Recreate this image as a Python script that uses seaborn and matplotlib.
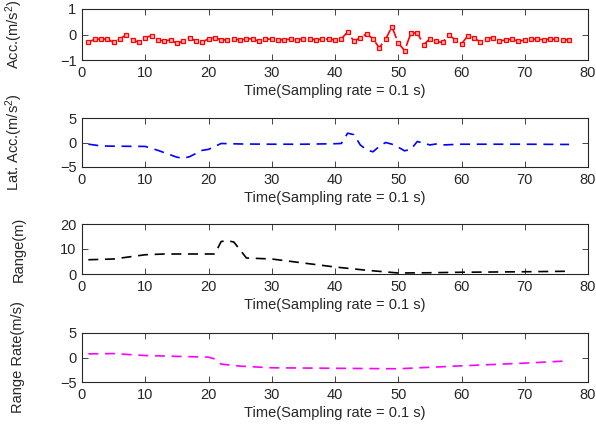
import numpy as np
import pandas as pd
import matplotlib
matplotlib.use("Agg")
import matplotlib.pyplot as plt
import seaborn as sns

# ---- data ----
acc_t = list(range(1, 78))
acc = [-0.31, -0.18, -0.18, -0.18, -0.31, -0.17, -0.01, -0.21, -0.31, -0.12,
       -0.05, -0.21, -0.26, -0.21, -0.35, -0.26, -0.12, -0.26, -0.31, -0.16,
       -0.12, -0.21, -0.21, -0.18, -0.21, -0.17, -0.17, -0.27, -0.18, -0.18,
       -0.21, -0.21, -0.18, -0.21, -0.18, -0.18, -0.21, -0.18, -0.18, -0.21,
       -0.17, 0.10, -0.27, -0.12, 0.03, -0.17, -0.52, -0.18, 0.30, -0.33,
       -0.63, 0.05, 0.07, -0.40, -0.17, -0.27, -0.31, -0.01, -0.21, -0.37,
       -0.05, -0.12, -0.31, -0.17, -0.12, -0.26, -0.21, -0.18, -0.27, -0.21,
       -0.18, -0.18, -0.21, -0.18, -0.18, -0.21, -0.21]

lat_t = [1, 3, 5, 10, 12, 15, 16, 17, 19, 20, 22, 25, 30, 35, 40, 41, 42, 43,
         44, 45, 46, 47, 48, 49, 50, 51, 52, 53, 54, 55, 56, 57, 60, 65, 70, 77]
lat = [-0.34, -0.7, -0.75, -0.8, -1.6, -3.0, -3.2, -2.9, -1.6, -1.4, -0.2,
       -0.3, -0.35, -0.35, -0.25, -0.2, 1.9, 1.6, -0.5, -1.5, -1.9, -0.8, 0.0,
       -0.34, -0.95, -1.7, -1.4, 0.2, -0.1, -0.5, -0.3, -0.5, -0.35, -0.35,
       -0.35, -0.4]

rng_t = [1, 5, 10, 13, 21, 22, 23, 24, 26, 30, 35, 40, 45, 50, 55, 60, 70, 77]
rng = [5.7, 6.0, 7.7, 8.0, 8.0, 13.0, 13.3, 12.8, 6.4, 6.0, 4.4, 2.8, 1.5,
       0.4, 0.5, 0.7, 0.9, 1.1]

rr_t = [1, 5, 10, 20, 21, 22, 25, 30, 40, 50, 55, 60, 70, 76]
rr = [0.74, 0.8, 0.4, 0.07, -0.3, -1.35, -1.76, -2.1, -2.2, -2.3, -2.0, -1.7,
      -1.15, -0.75]

ylabels = ["Acc.(m/s$^2$)", "Lat. Acc.(m/s$^2$)", "Range(m)", "Range Rate(m/s)"]
yticks = [[-1, 0, 1], [-5, 0, 5], [0, 10, 20], [-5, 0, 5]]
ylims = [(-1, 1), (-5, 5), (0, 20), (-5, 5)]
xlabel = "Time(Sampling rate = 0.1 s)"
xticks = [0, 10, 20, 30, 40, 50, 60, 70, 80]

# ---- style ----
sns.set_style("ticks")
plt.rcParams['font.family'] = ['Liberation Sans', 'DejaVu Sans']
plt.rcParams['mathtext.fontset'] = 'custom'
plt.rcParams['mathtext.rm'] = 'Liberation Sans'
plt.rcParams['mathtext.it'] = 'Liberation Sans'
plt.rcParams['xtick.direction'] = 'in'
plt.rcParams['ytick.direction'] = 'in'

W, H = 596, 433
fig = plt.figure(figsize=(W / 100, H / 100), dpi=100)

# axes boxes in pixels (left, top, right, bottom)
boxes = [(82, 9, 588, 60), (82, 118, 588, 167), (82, 224, 588, 274), (82, 333, 588, 382)]
axes = []
for (l, t, r, b) in boxes:
    ax = fig.add_axes([l / W, 1 - b / H, (r - l) / W, (b - t) / H])
    axes.append(ax)

series = [
    (acc_t, acc, "#ff0000", dict(marker="s", markersize=2.6, markeredgewidth=0.9,
                                  markerfacecolor="#ffb0b0", markeredgecolor="#ff0000",
                                  dashes=(7, 2.5))),
    (lat_t, lat, "#0000ff", dict(dashes=(6, 4))),
    (rng_t, rng, "#000000", dict(dashes=(6, 4))),
    (rr_t, rr, "#ff00ff", dict(dashes=(6, 4))),
]

for i, (ax, (t, v, c, kw)) in enumerate(zip(axes, series)):
    df = pd.DataFrame({"t": t, "v": v})
    dashes = kw.pop("dashes")
    line_ax = sns.lineplot(data=df, x="t", y="v", ax=ax, color=c, linewidth=1.2, **kw)
    line_ax.lines[0].set_dashes(dashes)
    ax.set_xlim(0, 80)
    ax.set_ylim(*ylims[i])
    ax.set_xticks(xticks)
    ax.set_yticks(yticks[i])
    ax.tick_params(axis="both", which="both", top=True, right=True, length=4,
                   width=0.6, color="#262626", labelsize=10.5, labelcolor="#262626", pad=4)
    for s in ax.spines.values():
        s.set_visible(True)
        s.set_linewidth(0.8)
        s.set_color("#262626")
    ax.set_xlabel(xlabel, fontsize=10.5, color="#262626", labelpad=3)
    ax.set_ylabel(ylabels[i], fontsize=10.5, color="#262626")
    ax.yaxis.set_label_coords(-0.112, 0.5)

fig.savefig("out.png", dpi=100)
